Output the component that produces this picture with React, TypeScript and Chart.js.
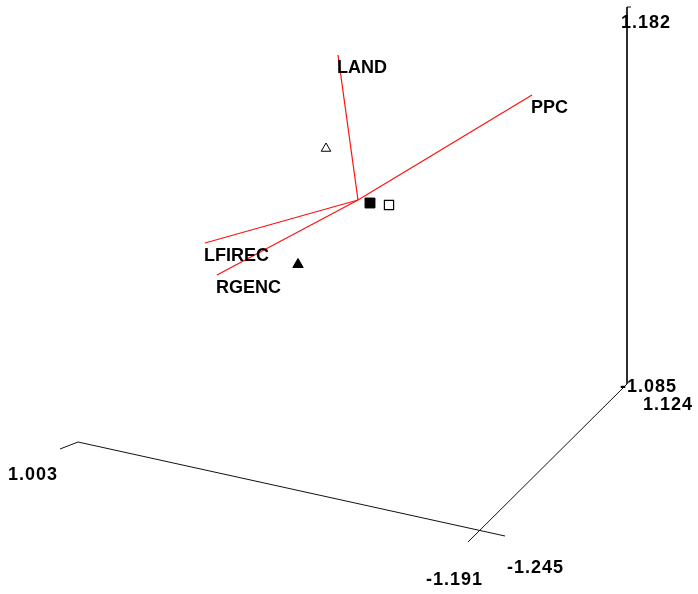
import React, { useEffect, useRef } from 'react';
import { Chart, registerables } from 'chart.js';

Chart.register(...registerables);

// Biplot vectors (projected coordinates, origin at 0,0)
const vectorNames = ['LAND', 'PPC', 'LFIREC', 'RGENC'];
const vectorX = [-0.2, 1.74, -1.53, -1.41];
const vectorY = [1.45, 1.05, -0.43, -0.75];
const originX = 0;
const originY = 0;

// Group markers (projected coordinates)
const groupNames = ['Group A', 'Group B', 'Group C', 'Group D'];
const groupX = [-0.32, -0.6, 0.12, 0.31];
const groupY = [0.515, -0.645, -0.03, -0.05];

// 3D frame edges (projected)
const frameX = [2.73, 2.69, 2.69, 1.1];
const frameY = [1.93, 1.93, -1.84, -3.42];
const baseX = [-2.98, -2.8, 1.47];
const baseY = [-2.49, -2.42, -3.36];

// Axis range labels (projected anchor positions)
const tickLabels = ['1.182', '-1.085', '1.124', '1.003', '-1.245', '-1.191'];
const tickX = [2.63, 2.62, 2.85, -3.5, 1.49, 0.68];
const tickY = [1.72, -1.92, -2.1, -2.8, -3.73, -3.85];

const X_MIN = -3.58;
const X_MAX = 3.4;
const Y_MIN = -3.94;
const Y_MAX = 2.0;

const FONT = 'bold 18px "Liberation Sans", Arial, sans-serif';

const labelPlugin = {
  id: 'biplotLabels',
  afterDatasetsDraw(chart: any) {
    const { ctx, scales } = chart;
    const xs = scales.x;
    const ys = scales.y;
    ctx.save();
    ctx.fillStyle = '#000';
    ctx.font = FONT;
    ctx.textAlign = 'left';
    ctx.textBaseline = 'alphabetic';
    vectorNames.forEach((name, i) => {
      const px = xs.getPixelForValue(vectorX[i]);
      const py = ys.getPixelForValue(vectorY[i]);
      ctx.fillText(name, px - 1, py + 18);
    });
    try {
      (ctx as any).letterSpacing = '1px';
    } catch (e) {}
    tickLabels.forEach((t, i) => {
      ctx.fillText(t, xs.getPixelForValue(tickX[i]), ys.getPixelForValue(tickY[i]));
    });
    ctx.restore();
  },
};

export default function App() {
  const ref = useRef<HTMLCanvasElement | null>(null);
  useEffect(() => {
    if (!ref.current) return;
    const datasets: any[] = [];
    vectorNames.forEach((name, i) => {
      datasets.push({
        label: name,
        data: [
          { x: originX, y: originY },
          { x: vectorX[i], y: vectorY[i] },
        ],
        showLine: true,
        borderColor: '#ff1010',
        borderWidth: 1.2,
        pointRadius: 0,
        pointHoverRadius: 0,
        tension: 0,
      });
    });
    datasets.push({
      label: 'frame',
      data: frameX.map((x, i) => ({ x, y: frameY[i] })),
      showLine: true,
      borderColor: '#111',
      borderWidth: 1,
      pointRadius: 0,
      tension: 0,
    });
    datasets.push({
      label: 'base',
      data: baseX.map((x, i) => ({ x, y: baseY[i] })),
      showLine: true,
      borderColor: '#111',
      borderWidth: 1,
      pointRadius: 0,
      tension: 0,
    });
    const markerStyles = [
      { pointStyle: 'triangle', radius: 5.5, fill: '#fff', border: 1 },
      { pointStyle: 'triangle', radius: 6, fill: '#000', border: 1 },
      { pointStyle: 'rect', radius: 7, fill: '#000', border: 1 },
      { pointStyle: 'rect', radius: 6.5, fill: '#fff', border: 1.2 },
    ];
    groupNames.forEach((name, i) => {
      const s = markerStyles[i];
      datasets.push({
        label: name,
        data: [{ x: groupX[i], y: groupY[i] }],
        showLine: false,
        pointStyle: s.pointStyle,
        pointRadius: s.radius,
        pointBackgroundColor: s.fill,
        pointBorderColor: '#000',
        pointBorderWidth: s.border,
      });
    });

    const chart = new Chart(ref.current, {
      type: 'scatter',
      data: { datasets },
      options: {
        animation: false,
        responsive: false,
        devicePixelRatio: 1,
        layout: { padding: 0, autoPadding: false },
        plugins: {
          legend: { display: false },
          tooltip: { enabled: false },
          title: { display: false },
        },
        scales: {
          x: { type: 'linear', min: X_MIN, max: X_MAX, display: false },
          y: { type: 'linear', min: Y_MIN, max: Y_MAX, display: false },
        },
      },
      plugins: [labelPlugin],
    } as any);
    return () => chart.destroy();
  }, []);

  return (
    <div style={{ position: 'fixed', left: 0, top: 0, width: 698, height: 594, background: '#fff' }}>
      <canvas ref={ref} width={698} height={594} style={{ width: 698, height: 594, display: 'block' }} />
    </div>
  );
}
